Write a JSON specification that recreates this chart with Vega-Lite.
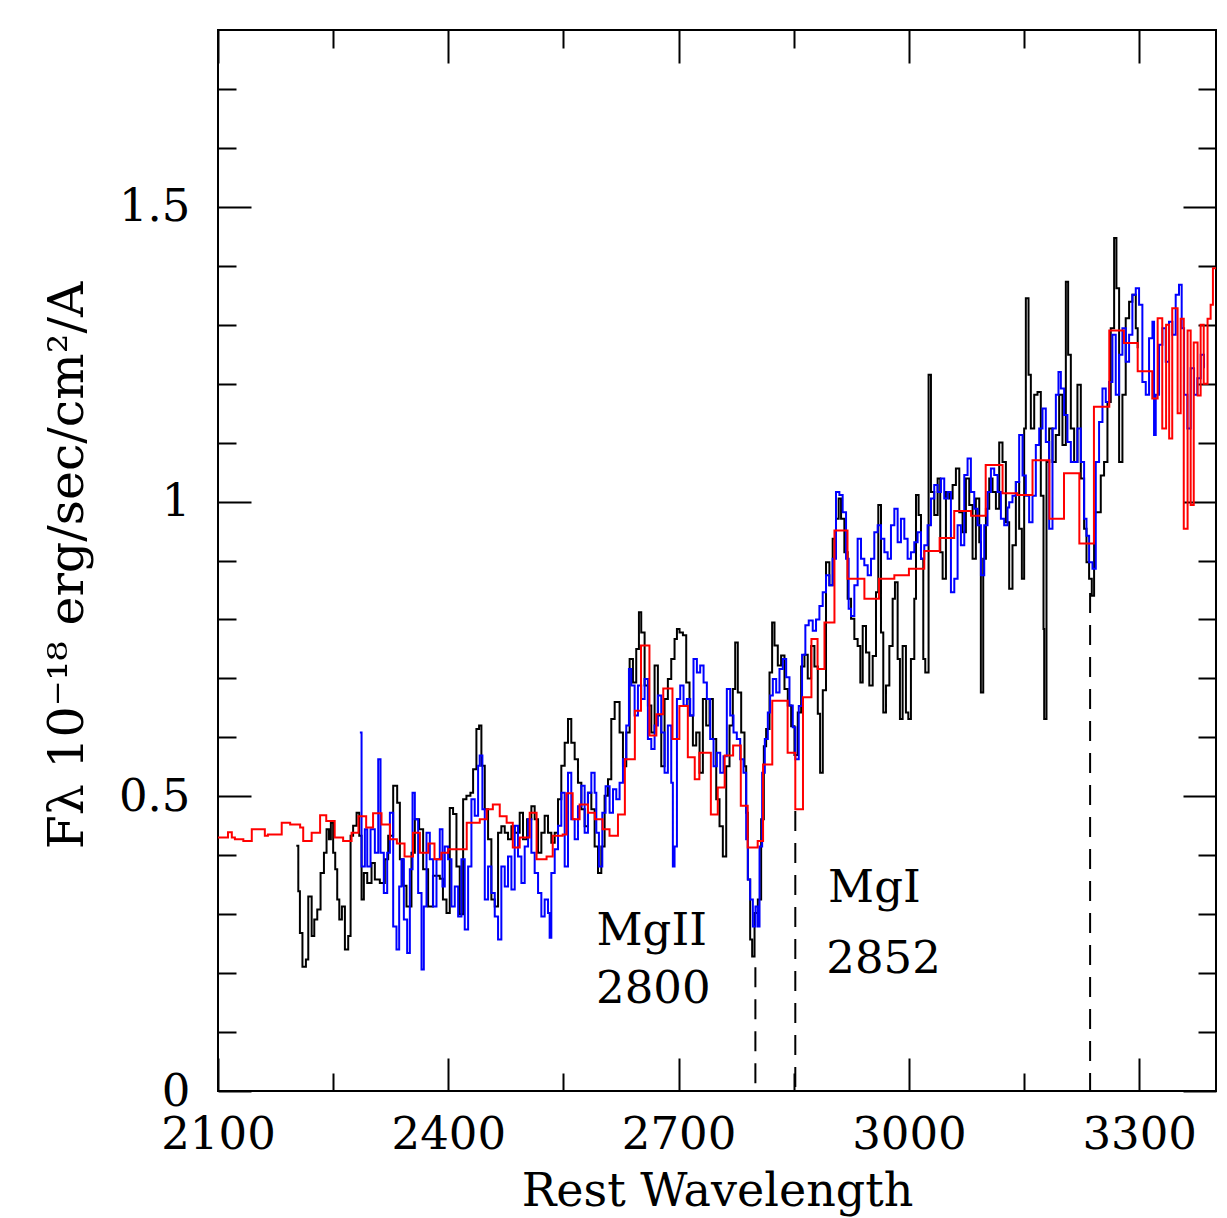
{
  "$schema": "https://vega.github.io/schema/vega-lite/v6.json",
  "width": 998,
  "height": 1061,
  "autosize": {"type": "none"},
  "padding": {"left": 218, "top": 30, "right": 11, "bottom": 127},
  "background": "white",
  "config": {"view": {"stroke": "black", "strokeWidth": 2}},
  "datasets": {
    "black": [
      {"wl":2202,"f":0.416},{"wl":2204.6,"f":0.339},{"wl":2206.7,"f":0.268},{"wl":2210,"f":0.211},{"wl":2214.5,"f":0.223},{"wl":2217.6,"f":0.33},{"wl":2222,"f":0.263},{"wl":2225.4,"f":0.291},{"wl":2229.3,"f":0.308},{"wl":2233.6,"f":0.37},{"wl":2238,"f":0.404},{"wl":2241.4,"f":0.444},{"wl":2244.5,"f":0.427},{"wl":2247,"f":0.455},{"wl":2250,"f":0.404},{"wl":2252.7,"f":0.376},{"wl":2255.3,"f":0.325},{"wl":2258,"f":0.291},{"wl":2261.4,"f":0.313},{"wl":2265.3,"f":0.24},{"wl":2269.6,"f":0.263},{"wl":2272.7,"f":0.433},{"wl":2276,"f":0.45},{"wl":2280.5,"f":0.472},{"wl":2284,"f":0.433},{"wl":2287,"f":0.325},{"wl":2290,"f":0.37},{"wl":2294.4,"f":0.353},{"wl":2300,"f":0.387},{"wl":2304.3,"f":0.359},{"wl":2310.8,"f":0.353},{"wl":2317.3,"f":0.393},{"wl":2321.7,"f":0.433},{"wl":2328.2,"f":0.518},{"wl":2333.4,"f":0.489},{"wl":2336.9,"f":0.393},{"wl":2341.2,"f":0.348},{"wl":2345.5,"f":0.313},{"wl":2352,"f":0.404},{"wl":2356.4,"f":0.461},{"wl":2362,"f":0.444},{"wl":2367.2,"f":0.376},{"wl":2373.7,"f":0.313},{"wl":2380,"f":0.365},{"wl":2388.9,"f":0.36},{"wl":2393,"f":0.325},{"wl":2397.6,"f":0.302},{"wl":2401.9,"f":0.48},{"wl":2406.2,"f":0.47},{"wl":2410.6,"f":0.381},{"wl":2414.9,"f":0.3},{"wl":2419.3,"f":0.495},{"wl":2423.6,"f":0.501},{"wl":2428.8,"f":0.506},{"wl":2432.3,"f":0.546},{"wl":2436.6,"f":0.614},{"wl":2440.1,"f":0.62},{"wl":2443.1,"f":0.552},{"wl":2447.5,"f":0.478},{"wl":2451.8,"f":0.427},{"wl":2456.1,"f":0.325},{"wl":2460.5,"f":0.313},{"wl":2464.8,"f":0.438},{"wl":2469.1,"f":0.449},{"wl":2473.5,"f":0.438},{"wl":2477.8,"f":0.427},{"wl":2482.2,"f":0.449},{"wl":2486.5,"f":0.438},{"wl":2493,"f":0.472},{"wl":2497.3,"f":0.427},{"wl":2502.6,"f":0.461},{"wl":2508.2,"f":0.483},{"wl":2512.5,"f":0.461},{"wl":2516.9,"f":0.404},{"wl":2521.2,"f":0.438},{"wl":2525.5,"f":0.467},{"wl":2529.9,"f":0.438},{"wl":2534.2,"f":0.421},{"wl":2538.6,"f":0.438},{"wl":2542.9,"f":0.495},{"wl":2547.2,"f":0.552},{"wl":2551.6,"f":0.591},{"wl":2555.9,"f":0.631},{"wl":2560.2,"f":0.591},{"wl":2564.6,"f":0.563},{"wl":2568.9,"f":0.523},{"wl":2573.3,"f":0.478},{"wl":2577.6,"f":0.449},{"wl":2581.9,"f":0.506},{"wl":2586.3,"f":0.478},{"wl":2590.6,"f":0.415},{"wl":2595,"f":0.37},{"wl":2599.3,"f":0.415},{"wl":2603.6,"f":0.501},{"wl":2608,"f":0.529},{"wl":2612.3,"f":0.631},{"wl":2616.7,"f":0.66},{"wl":2623.1,"f":0.608},{"wl":2627.5,"f":0.551},{"wl":2631.8,"f":0.608},{"wl":2636.2,"f":0.733},{"wl":2640.5,"f":0.693},{"wl":2644.8,"f":0.75},{"wl":2648.3,"f":0.812},{"wl":2651.3,"f":0.778},{"wl":2655.7,"f":0.688},{"wl":2660,"f":0.654},{"wl":2664.4,"f":0.608},{"wl":2668.7,"f":0.722},{"wl":2673,"f":0.637},{"wl":2677.4,"f":0.551},{"wl":2681.7,"f":0.665},{"wl":2686,"f":0.699},{"wl":2690.4,"f":0.733},{"wl":2694.7,"f":0.767},{"wl":2697.8,"f":0.784},{"wl":2701.2,"f":0.778},{"wl":2705.6,"f":0.773},{"wl":2709.9,"f":0.693},{"wl":2714.2,"f":0.637},{"wl":2718.6,"f":0.586},{"wl":2722.9,"f":0.608},{"wl":2727.3,"f":0.54},{"wl":2731.6,"f":0.665},{"wl":2735.9,"f":0.62},{"wl":2740.3,"f":0.665},{"wl":2744.6,"f":0.597},{"wl":2749,"f":0.495},{"wl":2753.3,"f":0.449},{"wl":2757.6,"f":0.398},{"wl":2762,"f":0.551},{"wl":2766.3,"f":0.62},{"wl":2770.6,"f":0.682},{"wl":2773.7,"f":0.761},{"wl":2777.1,"f":0.676},{"wl":2781.5,"f":0.608},{"wl":2785.8,"f":0.551},{"wl":2788,"f":0.472},{"wl":2790.2,"f":0.359},{"wl":2793.2,"f":0.257},{"wl":2795.8,"f":0.228},{"wl":2798.9,"f":0.302},{"wl":2803.2,"f":0.325},{"wl":2807.5,"f":0.461},{"wl":2811,"f":0.585},{"wl":2814,"f":0.614},{"wl":2818.4,"f":0.71},{"wl":2821.8,"f":0.795},{"wl":2824.9,"f":0.756},{"wl":2829.2,"f":0.722},{"wl":2833.5,"f":0.739},{"wl":2837.9,"f":0.682},{"wl":2842.2,"f":0.654},{"wl":2846.6,"f":0.619},{"wl":2850.9,"f":0.57},{"wl":2855.2,"f":0.642},{"wl":2859.6,"f":0.72},{"wl":2863.9,"f":0.74},{"wl":2868.2,"f":0.7},{"wl":2872.6,"f":0.755},{"wl":2876.9,"f":0.72},{"wl":2881.3,"f":0.64},{"wl":2884.3,"f":0.54},{"wl":2887.8,"f":0.68},{"wl":2892,"f":0.897},{"wl":2896.4,"f":0.858},{"wl":2900.7,"f":0.937},{"wl":2905,"f":0.971},{"wl":2908.5,"f":1.005},{"wl":2911.6,"f":0.971},{"wl":2915.9,"f":0.914},{"wl":2920.2,"f":0.835},{"wl":2924.6,"f":0.801},{"wl":2928.9,"f":0.767},{"wl":2933.2,"f":0.755},{"wl":2936.7,"f":0.693},{"wl":2939.8,"f":0.789},{"wl":2944.1,"f":0.744},{"wl":2948.4,"f":0.688},{"wl":2952.8,"f":0.738},{"wl":2957.1,"f":0.846},{"wl":2960.1,"f":0.994},{"wl":2963.6,"f":0.778},{"wl":2966.6,"f":0.642},{"wl":2970.1,"f":0.688},{"wl":2974.5,"f":0.755},{"wl":2978.8,"f":0.835},{"wl":2981.8,"f":0.863},{"wl":2985.3,"f":0.733},{"wl":2988.3,"f":0.631},{"wl":2991.8,"f":0.755},{"wl":2996.1,"f":0.642},{"wl":2999.2,"f":0.631},{"wl":3002.6,"f":0.733},{"wl":3007,"f":0.835},{"wl":3009.2,"f":1.011},{"wl":3012.6,"f":0.977},{"wl":3015.7,"f":0.903},{"wl":3018.7,"f":0.733},{"wl":3021.3,"f":0.71},{"wl":3025.6,"f":1.215},{"wl":3028.7,"f":1.016},{"wl":3033,"f":0.977},{"wl":3037.4,"f":1.039},{"wl":3040.8,"f":0.914},{"wl":3043.9,"f":0.869},{"wl":3048.2,"f":1.016},{"wl":3052.5,"f":1.005},{"wl":3056.9,"f":1.028},{"wl":3061.2,"f":1.056},{"wl":3065.6,"f":0.982},{"wl":3069.9,"f":0.948},{"wl":3074.2,"f":1.039},{"wl":3078.6,"f":0.994},{"wl":3082.9,"f":0.903},{"wl":3087.2,"f":1.005},{"wl":3091.6,"f":0.931},{"wl":3093.7,"f":0.676},{"wl":3096.8,"f":0.903},{"wl":3100.3,"f":0.988},{"wl":3104.6,"f":1.039},{"wl":3108.9,"f":1.016},{"wl":3113.3,"f":0.988},{"wl":3117.6,"f":1.1},{"wl":3121.9,"f":1.067},{"wl":3126.3,"f":0.965},{"wl":3130.6,"f":0.852},{"wl":3134.9,"f":0.926},{"wl":3139.3,"f":1.033},{"wl":3143.6,"f":0.954},{"wl":3147.1,"f":0.869},{"wl":3150.1,"f":1.124},{"wl":3152.3,"f":1.345},{"wl":3155.8,"f":1.215},{"wl":3158.8,"f":1.124},{"wl":3163.2,"f":1.181},{"wl":3167.5,"f":1.186},{"wl":3171.8,"f":1.01},{"wl":3175.3,"f":0.784},{"wl":3176.2,"f":0.631},{"wl":3179.2,"f":1.067},{"wl":3182.7,"f":1.124},{"wl":3187,"f":1.067},{"wl":3191.3,"f":1.113},{"wl":3195.7,"f":1.181},{"wl":3200,"f":1.096},{"wl":3204.4,"f":1.373},{"wl":3207.4,"f":1.249},{"wl":3210.9,"f":1.124},{"wl":3215.2,"f":1.067},{"wl":3219.5,"f":1.198},{"wl":3223.9,"f":1.039},{"wl":3228.2,"f":0.954},{"wl":3231.3,"f":0.897},{"wl":3234.7,"f":0.869},{"wl":3238.2,"f":0.84},{"wl":3241.2,"f":0.982},{"wl":3245.6,"f":0.982},{"wl":3249.9,"f":1.044},{"wl":3254.2,"f":1.067},{"wl":3258.6,"f":1.169},{"wl":3262.9,"f":1.294},{"wl":3267.3,"f":1.447},{"wl":3270.3,"f":1.362},{"wl":3273.8,"f":1.067},{"wl":3278.1,"f":1.181},{"wl":3282.4,"f":1.311},{"wl":3286.8,"f":1.339},{"wl":3291.1,"f":1.351},{"wl":3295.5,"f":1.294},{"wl":3298,"f":1.26}
    ],
    "blue": [
      {"wl":2284.8,"f":0.608},{"wl":2287,"f":0.381},{"wl":2291.3,"f":0.444},{"wl":2294.4,"f":0.381},{"wl":2298.7,"f":0.444},{"wl":2304.3,"f":0.404},{"wl":2308.7,"f":0.563},{"wl":2311.7,"f":0.404},{"wl":2316,"f":0.336},{"wl":2320.4,"f":0.404},{"wl":2323.9,"f":0.472},{"wl":2328.2,"f":0.279},{"wl":2332.5,"f":0.24},{"wl":2336,"f":0.347},{"wl":2339,"f":0.393},{"wl":2342.1,"f":0.291},{"wl":2346.4,"f":0.234},{"wl":2349.9,"f":0.376},{"wl":2353.4,"f":0.506},{"wl":2356.4,"f":0.461},{"wl":2360.7,"f":0.336},{"wl":2365.1,"f":0.206},{"wl":2368.1,"f":0.313},{"wl":2371.6,"f":0.438},{"wl":2375.9,"f":0.393},{"wl":2380.2,"f":0.313},{"wl":2384.6,"f":0.393},{"wl":2388.9,"f":0.444},{"wl":2392.4,"f":0.347},{"wl":2395.4,"f":0.415},{"wl":2399.7,"f":0.393},{"wl":2404.1,"f":0.313},{"wl":2408.4,"f":0.347},{"wl":2412.8,"f":0.296},{"wl":2417.1,"f":0.393},{"wl":2421.4,"f":0.274},{"wl":2425.8,"f":0.381},{"wl":2430.1,"f":0.495},{"wl":2434.4,"f":0.467},{"wl":2438.8,"f":0.552},{"wl":2440.9,"f":0.569},{"wl":2444.4,"f":0.478},{"wl":2447.5,"f":0.325},{"wl":2451.8,"f":0.381},{"wl":2456.1,"f":0.336},{"wl":2460.5,"f":0.296},{"wl":2464.8,"f":0.257},{"wl":2469.1,"f":0.381},{"wl":2473.5,"f":0.347},{"wl":2477.8,"f":0.398},{"wl":2482.2,"f":0.342},{"wl":2486.5,"f":0.45},{"wl":2490.8,"f":0.398},{"wl":2495.2,"f":0.353},{"wl":2499.5,"f":0.415},{"wl":2503.9,"f":0.461},{"wl":2508.2,"f":0.404},{"wl":2512.5,"f":0.37},{"wl":2516.9,"f":0.336},{"wl":2521.2,"f":0.296},{"wl":2525.5,"f":0.325},{"wl":2529.9,"f":0.302},{"wl":2532,"f":0.26},{"wl":2534.2,"f":0.37},{"wl":2538.6,"f":0.41},{"wl":2542.9,"f":0.45},{"wl":2547.2,"f":0.506},{"wl":2551.6,"f":0.381},{"wl":2555.9,"f":0.54},{"wl":2560.2,"f":0.461},{"wl":2564.6,"f":0.427},{"wl":2568.9,"f":0.483},{"wl":2573.3,"f":0.518},{"wl":2577.6,"f":0.438},{"wl":2581.9,"f":0.506},{"wl":2586.3,"f":0.54},{"wl":2590.6,"f":0.506},{"wl":2592.8,"f":0.438},{"wl":2596.2,"f":0.381},{"wl":2600.6,"f":0.472},{"wl":2604.9,"f":0.517},{"wl":2610.1,"f":0.472},{"wl":2614.5,"f":0.512},{"wl":2618.8,"f":0.495},{"wl":2623.1,"f":0.523},{"wl":2627.5,"f":0.563},{"wl":2631.8,"f":0.62},{"wl":2635.3,"f":0.716},{"wl":2638.3,"f":0.688},{"wl":2642.7,"f":0.637},{"wl":2647,"f":0.688},{"wl":2651.3,"f":0.665},{"wl":2655.7,"f":0.699},{"wl":2660,"f":0.597},{"wl":2664.4,"f":0.58},{"wl":2668.7,"f":0.62},{"wl":2673,"f":0.671},{"wl":2677.4,"f":0.608},{"wl":2681.7,"f":0.54},{"wl":2686,"f":0.62},{"wl":2690.4,"f":0.523},{"wl":2692.5,"f":0.381},{"wl":2694.7,"f":0.415},{"wl":2697.8,"f":0.665},{"wl":2702.1,"f":0.688},{"wl":2706.4,"f":0.654},{"wl":2710.8,"f":0.665},{"wl":2715.1,"f":0.637},{"wl":2719.4,"f":0.733},{"wl":2723.8,"f":0.71},{"wl":2728.1,"f":0.722},{"wl":2732.5,"f":0.693},{"wl":2736.8,"f":0.665},{"wl":2741.1,"f":0.597},{"wl":2745.5,"f":0.551},{"wl":2749.8,"f":0.574},{"wl":2754.2,"f":0.54},{"wl":2758.5,"f":0.568},{"wl":2762.8,"f":0.682},{"wl":2767.2,"f":0.637},{"wl":2771.5,"f":0.608},{"wl":2775.8,"f":0.597},{"wl":2780.2,"f":0.563},{"wl":2784.5,"f":0.54},{"wl":2788,"f":0.427},{"wl":2790.2,"f":0.359},{"wl":2793.2,"f":0.325},{"wl":2796.7,"f":0.279},{"wl":2800.1,"f":0.313},{"wl":2803.2,"f":0.279},{"wl":2805.4,"f":0.415},{"wl":2808.8,"f":0.54},{"wl":2812.3,"f":0.597},{"wl":2816.2,"f":0.642},{"wl":2819.2,"f":0.671},{"wl":2822.7,"f":0.699},{"wl":2827.1,"f":0.676},{"wl":2831.4,"f":0.716},{"wl":2835.7,"f":0.733},{"wl":2840.1,"f":0.702},{"wl":2844.4,"f":0.654},{"wl":2848.7,"f":0.617},{"wl":2852.1,"f":0.563},{"wl":2856.5,"f":0.653},{"wl":2860.8,"f":0.74},{"wl":2865.1,"f":0.79},{"wl":2869.5,"f":0.798},{"wl":2874.7,"f":0.781},{"wl":2879,"f":0.8},{"wl":2883.4,"f":0.823},{"wl":2887.7,"f":0.846},{"wl":2892,"f":0.875},{"wl":2896.4,"f":0.858},{"wl":2900.7,"f":0.903},{"wl":2905,"f":1.016},{"wl":2909.4,"f":1.011},{"wl":2913.7,"f":0.982},{"wl":2918.1,"f":0.903},{"wl":2921.5,"f":0.818},{"wl":2924.6,"f":0.806},{"wl":2928.9,"f":0.858},{"wl":2933.2,"f":0.937},{"wl":2937.6,"f":0.903},{"wl":2941.9,"f":0.892},{"wl":2946.3,"f":0.875},{"wl":2950.6,"f":0.903},{"wl":2954.9,"f":0.948},{"wl":2959.3,"f":0.96},{"wl":2963.6,"f":0.937},{"wl":2968,"f":0.914},{"wl":2972.3,"f":0.903},{"wl":2976.6,"f":0.96},{"wl":2981,"f":0.988},{"wl":2985.3,"f":0.931},{"wl":2989.6,"f":0.971},{"wl":2994,"f":0.937},{"wl":2998.3,"f":0.903},{"wl":3002.6,"f":0.914},{"wl":3007,"f":0.931},{"wl":3011.3,"f":0.948},{"wl":3015.7,"f":0.903},{"wl":3020,"f":0.926},{"wl":3024.3,"f":0.96},{"wl":3028.7,"f":1.005},{"wl":3033,"f":1.028},{"wl":3037.4,"f":1.016},{"wl":3041.7,"f":1.039},{"wl":3046,"f":1.005},{"wl":3050.4,"f":1.016},{"wl":3054.7,"f":0.846},{"wl":3059.1,"f":0.869},{"wl":3063.4,"f":0.96},{"wl":3067.7,"f":0.926},{"wl":3072.1,"f":1.045},{"wl":3076.4,"f":1.073},{"wl":3080.7,"f":1.016},{"wl":3085.1,"f":0.988},{"wl":3089.4,"f":0.96},{"wl":3093.8,"f":0.875},{"wl":3098.1,"f":0.96},{"wl":3102.4,"f":1.016},{"wl":3106.8,"f":1.056},{"wl":3111.1,"f":1.045},{"wl":3115.5,"f":1.016},{"wl":3119.8,"f":0.971},{"wl":3124.1,"f":0.96},{"wl":3128.5,"f":0.99},{"wl":3130.6,"f":0.999},{"wl":3134.9,"f":1.01},{"wl":3139.3,"f":1.033},{"wl":3143.6,"f":1.113},{"wl":3148,"f":1.044},{"wl":3152.3,"f":1.01},{"wl":3156.6,"f":0.965},{"wl":3161,"f":1.01},{"wl":3165.3,"f":1.096},{"wl":3169.7,"f":1.124},{"wl":3174,"f":1.158},{"wl":3178.3,"f":1.101},{"wl":3182.7,"f":0.954},{"wl":3187,"f":1.124},{"wl":3191.4,"f":1.181},{"wl":3194.8,"f":1.22},{"wl":3197.9,"f":1.192},{"wl":3202.2,"f":1.147},{"wl":3206.5,"f":1.101},{"wl":3210.9,"f":1.067},{"wl":3215.2,"f":1.067},{"wl":3219.5,"f":1.124},{"wl":3223.9,"f":1.067},{"wl":3228.2,"f":0.971},{"wl":3231.3,"f":0.942},{"wl":3234.7,"f":0.897},{"wl":3239.1,"f":0.886},{"wl":3243.4,"f":1.067},{"wl":3247.7,"f":1.135},{"wl":3252.1,"f":1.192},{"wl":3256.4,"f":1.169},{"wl":3260.8,"f":1.203},{"wl":3265.1,"f":1.283},{"wl":3269.4,"f":1.181},{"wl":3273.8,"f":1.249},{"wl":3278.1,"f":1.294},{"wl":3282.4,"f":1.237},{"wl":3286.8,"f":1.283},{"wl":3291.1,"f":1.351},{"wl":3295.5,"f":1.362},{"wl":3299.8,"f":1.334},{"wl":3304.1,"f":1.203},{"wl":3308.5,"f":1.181},{"wl":3312.8,"f":1.277},{"wl":3317.2,"f":1.305},{"wl":3319.3,"f":1.113},{"wl":3321.5,"f":1.181},{"wl":3325.8,"f":1.266},{"wl":3330.2,"f":1.294},{"wl":3334.5,"f":1.237},{"wl":3338.8,"f":1.305},{"wl":3343.2,"f":1.283},{"wl":3347.5,"f":1.351},{"wl":3351.8,"f":1.368},{"wl":3355.3,"f":1.294},{"wl":3358.4,"f":1.181},{"wl":3362.7,"f":1.124},{"wl":3367,"f":1.226},{"wl":3371.4,"f":1.181},{"wl":3375.7,"f":1.209},{"wl":3380.1,"f":1.249},{"wl":3384.4,"f":1.226}
    ],
    "red": [
      {"wl":2100,"f":0.43},{"wl":2113,"f":0.439},{"wl":2118,"f":0.43},{"wl":2122,"f":0.427},{"wl":2133,"f":0.424},{"wl":2144,"f":0.444},{"wl":2161,"f":0.433},{"wl":2165,"f":0.435},{"wl":2183,"f":0.455},{"wl":2194,"f":0.452},{"wl":2207,"f":0.447},{"wl":2211,"f":0.424},{"wl":2222,"f":0.438},{"wl":2233,"f":0.468},{"wl":2241,"f":0.458},{"wl":2252,"f":0.43},{"wl":2263,"f":0.424},{"wl":2274,"f":0.438},{"wl":2283,"f":0.466},{"wl":2293,"f":0.447},{"wl":2302,"f":0.471},{"wl":2313,"f":0.452},{"wl":2324,"f":0.427},{"wl":2333,"f":0.42},{"wl":2343,"f":0.398},{"wl":2354,"f":0.438},{"wl":2363,"f":0.404},{"wl":2374,"f":0.42},{"wl":2382,"f":0.393},{"wl":2391,"f":0.404},{"wl":2400,"f":0.41},{"wl":2424,"f":0.455},{"wl":2441,"f":0.461},{"wl":2450,"f":0.478},{"wl":2458,"f":0.486},{"wl":2467,"f":0.466},{"wl":2476,"f":0.455},{"wl":2484,"f":0.413},{"wl":2493,"f":0.43},{"wl":2506,"f":0.472},{"wl":2515,"f":0.393},{"wl":2528,"f":0.398},{"wl":2536,"f":0.433},{"wl":2549,"f":0.435},{"wl":2554,"f":0.505},{"wl":2562,"f":0.461},{"wl":2571,"f":0.486},{"wl":2582,"f":0.472},{"wl":2591,"f":0.461},{"wl":2601,"f":0.444},{"wl":2610,"f":0.433},{"wl":2621,"f":0.469},{"wl":2630,"f":0.563},{"wl":2643,"f":0.645},{"wl":2651,"f":0.756},{"wl":2662,"f":0.603},{"wl":2671,"f":0.639},{"wl":2680,"f":0.683},{"wl":2692,"f":0.597},{"wl":2701,"f":0.653},{"wl":2712,"f":0.566},{"wl":2721,"f":0.529},{"wl":2727,"f":0.574},{"wl":2742,"f":0.469},{"wl":2751,"f":0.515},{"wl":2760,"f":0.569},{"wl":2771,"f":0.586},{"wl":2781,"f":0.484},{"wl":2790,"f":0.413},{"wl":2803,"f":0.424},{"wl":2810,"f":0.554},{"wl":2822,"f":0.662},{"wl":2842,"f":0.574},{"wl":2852,"f":0.478},{"wl":2862,"f":0.668},{"wl":2873,"f":0.767},{"wl":2881,"f":0.716},{"wl":2890,"f":0.795},{"wl":2903,"f":0.951},{"wl":2920,"f":0.869},{"wl":2942,"f":0.835},{"wl":2961,"f":0.869},{"wl":2981,"f":0.875},{"wl":3000,"f":0.886},{"wl":3020,"f":0.916},{"wl":3040,"f":0.938},{"wl":3059,"f":0.984},{"wl":3081,"f":0.976},{"wl":3100,"f":1.062},{"wl":3122,"f":1.014},{"wl":3141,"f":1.011},{"wl":3161,"f":1.07},{"wl":3183,"f":0.971},{"wl":3202,"f":1.048},{"wl":3222,"f":0.929},{"wl":3241,"f":1.161},{"wl":3261,"f":1.29},{"wl":3280,"f":1.269},{"wl":3298,"f":1.221},{"wl":3317,"f":1.175},{"wl":3324,"f":1.311},{"wl":3330,"f":1.124},{"wl":3335,"f":1.3},{"wl":3339,"f":1.107},{"wl":3343,"f":1.328},{"wl":3350,"f":1.15},{"wl":3354,"f":1.31},{"wl":3358,"f":0.954},{"wl":3363,"f":1.29},{"wl":3367,"f":0.994},{"wl":3371,"f":1.27},{"wl":3376,"f":1.18},{"wl":3380,"f":1.3},{"wl":3384,"f":1.2},{"wl":3389,"f":1.31},{"wl":3393,"f":1.334},{"wl":3396,"f":1.396},{"wl":3400,"f":1.396}
    ],
    "lines": [
      {"wl":2800,"top":0.21},{"wl":2852,"top":0.475},{"wl":3236,"top":0.845}
    ],
    "labels": [
      {"label":"MgII","wl":2665,"f":0.248},{"label":"2800","wl":2667,"f":0.15},{"label":"MgI","wl":2955,"f":0.32},{"label":"2852","wl":2967,"f":0.201}
    ]
  },
  "resolve": {"axis": {"x": "independent", "y": "independent"}},
  "layer": [
    {
      "data": {"name": "black"},
      "mark": {"type": "line", "color": "#000000", "strokeWidth": 2, "interpolate": "step-after", "clip": true},
      "encoding": {
        "x": {"field": "wl", "type": "quantitative", "scale": {"domain": [2100, 3400], "nice": false, "zero": false},
          "axis": {"orient": "bottom", "values": [2100,2400,2700,3000,3300], "format": "d",
            "labelFont": "DejaVu Serif", "labelFontSize": 45, "labelColor": "black", "labelBaseline": "alphabetic",
            "labelPadding": 90, "labelFlush": false, "labelOverlap": false,
            "ticks": true, "tickSize": -33, "tickWidth": 2, "tickColor": "black", "domain": false, "grid": false,
            "title": "Rest Wavelength", "titleFont": "DejaVu Serif", "titleFontSize": 46, "titleFontWeight": "normal",
            "titleColor": "black", "titleBaseline": "alphabetic", "titleAlign": "center", "titleX": 499, "titleY": 114}},
        "y": {"field": "f", "type": "quantitative", "scale": {"domain": [0, 1.8], "nice": false, "zero": false},
          "axis": {"orient": "left", "values": [0,0.5,1,1.5],
            "labelExpr": "'' + datum.value",
            "labelFont": "DejaVu Serif", "labelFontSize": 45, "labelColor": "black", "labelAlign": "right", "labelBaseline": "middle",
            "labelPadding": 61, "labelFlush": false, "labelOverlap": false,
            "ticks": true, "tickSize": -33, "tickWidth": 2, "tickColor": "black", "domain": false, "grid": false,
            "title": "F\u03bb 10\u207b\u00b9\u2078 erg/sec/cm\u00b2/A", "titleFont": "DejaVu Serif", "titleFontSize": 49, "titleFontWeight": "normal",
            "titleColor": "black", "titleAngle": 270, "titleBaseline": "alphabetic", "titleAlign": "center", "titleX": -136, "titleY": 535}}
      }
    },
    {
      "data": {"name": "blue"},
      "mark": {"type": "line", "color": "#0000ff", "strokeWidth": 2, "interpolate": "step-after", "clip": true},
      "encoding": {
        "x": {"field": "wl", "type": "quantitative", "scale": {"domain": [2100, 3400], "nice": false, "zero": false},
          "axis": {"orient": "bottom", "values": [2250,2550,2850,3150], "labels": false,
            "ticks": true, "tickSize": -18, "tickWidth": 2, "tickColor": "black", "domain": false, "grid": false, "title": null}},
        "y": {"field": "f", "type": "quantitative", "scale": {"domain": [0, 1.8], "nice": false, "zero": false},
          "axis": {"orient": "left", "values": [0.1,0.2,0.3,0.4,0.6,0.7,0.8,0.9,1.1,1.2,1.3,1.4,1.6,1.7], "labels": false,
            "ticks": true, "tickSize": -18, "tickWidth": 2, "tickColor": "black", "domain": false, "grid": false, "title": null}}
      }
    },
    {
      "data": {"name": "red"},
      "mark": {"type": "line", "color": "#ff0000", "strokeWidth": 2, "interpolate": "step-after", "clip": true},
      "encoding": {
        "x": {"field": "wl", "type": "quantitative", "scale": {"domain": [2100, 3400], "nice": false, "zero": false},
          "axis": {"orient": "top", "values": [2100,2400,2700,3000,3300], "labels": false,
            "ticks": true, "tickSize": -33, "tickWidth": 2, "tickColor": "black", "domain": false, "grid": false, "title": null}},
        "y": {"field": "f", "type": "quantitative", "scale": {"domain": [0, 1.8], "nice": false, "zero": false},
          "axis": {"orient": "right", "values": [0,0.5,1,1.5], "labels": false,
            "ticks": true, "tickSize": -33, "tickWidth": 2, "tickColor": "black", "domain": false, "grid": false, "title": null}}
      }
    },
    {
      "data": {"name": "lines"},
      "mark": {"type": "rule", "color": "#000000", "strokeWidth": 2, "strokeDash": [20, 12]},
      "encoding": {
        "x": {"field": "wl", "type": "quantitative", "scale": {"domain": [2100, 3400], "nice": false, "zero": false},
          "axis": {"orient": "top", "values": [2250,2550,2850,3150], "labels": false,
            "ticks": true, "tickSize": -18, "tickWidth": 2, "tickColor": "black", "domain": false, "grid": false, "title": null}},
        "y": {"field": "top", "type": "quantitative", "scale": {"domain": [0, 1.8], "nice": false, "zero": false},
          "axis": {"orient": "right", "values": [0.1,0.2,0.3,0.4,0.6,0.7,0.8,0.9,1.1,1.2,1.3,1.4,1.6,1.7], "labels": false,
            "ticks": true, "tickSize": -18, "tickWidth": 2, "tickColor": "black", "domain": false, "grid": false, "title": null}},
        "y2": {"datum": 0}
      }
    },
    {
      "data": {"name": "labels"},
      "mark": {"type": "text", "font": "DejaVu Serif", "fontSize": 45, "color": "#000000", "align": "center", "baseline": "alphabetic"},
      "encoding": {
        "x": {"field": "wl", "type": "quantitative", "scale": {"domain": [2100, 3400], "nice": false, "zero": false}, "axis": null},
        "y": {"field": "f", "type": "quantitative", "scale": {"domain": [0, 1.8], "nice": false, "zero": false}, "axis": null},
        "text": {"field": "label", "type": "nominal"}
      }
    }
  ]
}
